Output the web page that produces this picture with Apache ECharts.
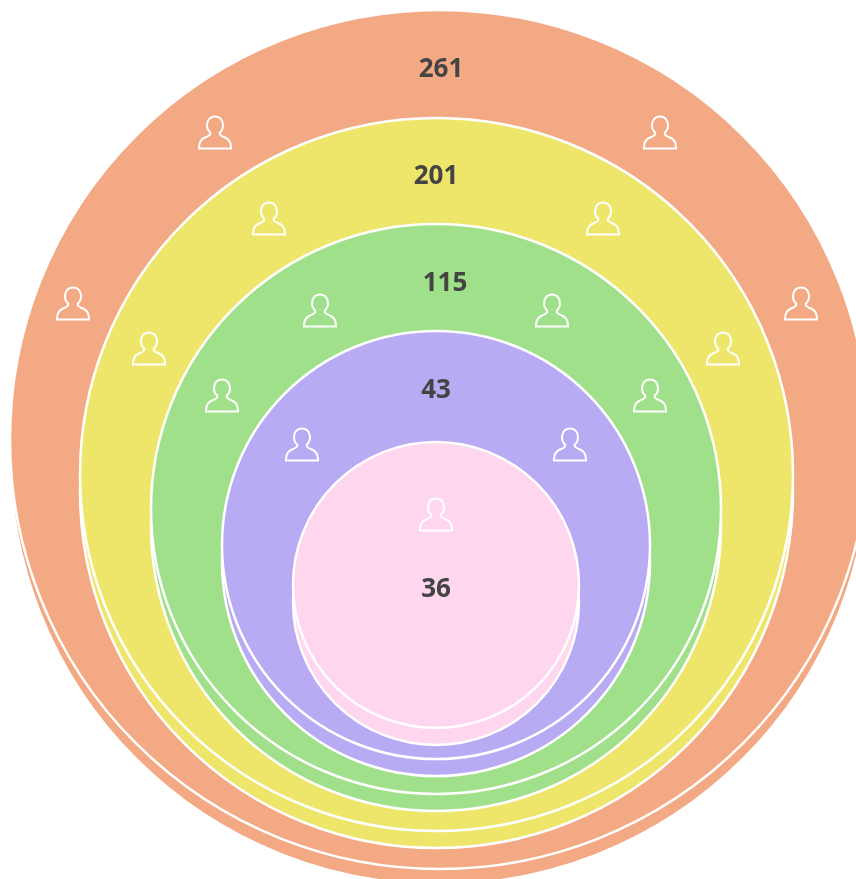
<!DOCTYPE html>
<html>
<head>
<meta charset="utf-8">
<title>Nested circles</title>
<script src="https://cdn.jsdelivr.net/npm/echarts@6/dist/echarts.min.js"></script>
<style>
  html, body { margin: 0; padding: 0; background: #fff; }
  #chart { width: 856px; height: 879px; }
</style>
</head>
<body>
<div id="chart"></div>
<script>
// outermost ring first
const levelValues = [261, 201, 115, 43, 36]
const levelColors = ['#f3a983', '#eee66a', '#a0e08a', '#b8aaf3', '#fed6ee']

// layout of each disc, in px: centre of the top face, radius, drop of the shadow disc, label position
const discs = [
  { cx: 439.5, cy: 439.5, r: 429.5, drop: 15.5, labelX: 441, labelY: 69 },
  { cx: 436.5, cy: 474.5, r: 356.5, drop: 17, labelX: 436, labelY: 176 },
  { cx: 436, cy: 509, r: 285, drop: 17, labelX: 445, labelY: 283 },
  { cx: 436, cy: 545, r: 214, drop: 17, labelX: 436, labelY: 390 },
  { cx: 436, cy: 585, r: 143, drop: 17, labelX: 436, labelY: 589 }
]

// person icon spots, px
const iconSpots = [
  [215, 132], [660, 132], [73, 303], [801, 303],
  [269, 218], [603, 218], [149, 348], [723, 348],
  [320, 310], [552, 310], [222, 395], [650, 395],
  [302, 444], [570, 444],
  [436, 514]
]

const personPath = 'M16 1C11 1 8.5 5 8.5 9C8.5 12 9.5 14.5 11.5 16L11.5 17.5C11.5 19 9 19.5 7 20.5C3 22 1 25.5 1 30L1 31L31 31L31 30C31 25.5 29 22 25 20.5C23 19.5 20.5 19 20.5 17.5L20.5 16C22.5 14.5 23.5 12 23.5 9C23.5 5 21 1 16 1Z'

function discSeries(i, isTop) {
  const d = discs[i]
  return {
    type: 'pie',
    silent: true,
    animation: false,
    center: [d.cx, isTop ? d.cy : d.cy + d.drop],
    radius: [0, d.r],
    itemStyle: { color: levelColors[i], borderColor: '#fff', borderWidth: 2.5 },
    label: isTop
      ? {
          show: true,
          position: 'center',
          formatter: '{c}',
          offset: [d.labelX - d.cx, d.labelY + 0.5 - d.cy],
          fontFamily: 'Open Sans',
          fontWeight: 'bold',
          fontSize: 26,
          color: '#444444'
        }
      : { show: false },
    labelLine: { show: false },
    emphasis: { disabled: true },
    data: [{ value: levelValues[i] }]
  }
}

const series = []
levelValues.forEach((v, i) => {
  series.push(discSeries(i, false))
  series.push(discSeries(i, true))
})

series.push({
  type: 'custom',
  coordinateSystem: 'none',
  silent: true,
  animation: false,
  z: 10,
  data: iconSpots,
  renderItem: (params, api) => ({
    type: 'path',
    shape: {
      pathData: personPath,
      layout: 'center',
      x: api.value(0) - 16,
      y: api.value(1) - 15.5,
      width: 32,
      height: 32
    },
    style: { fill: 'none', stroke: '#fff', lineWidth: 2 }
  })
})

const chart = echarts.init(document.getElementById('chart'))
chart.setOption({
  backgroundColor: '#fff',
  animation: false,
  tooltip: { show: false },
  series: series
})
</script>
</body>
</html>
